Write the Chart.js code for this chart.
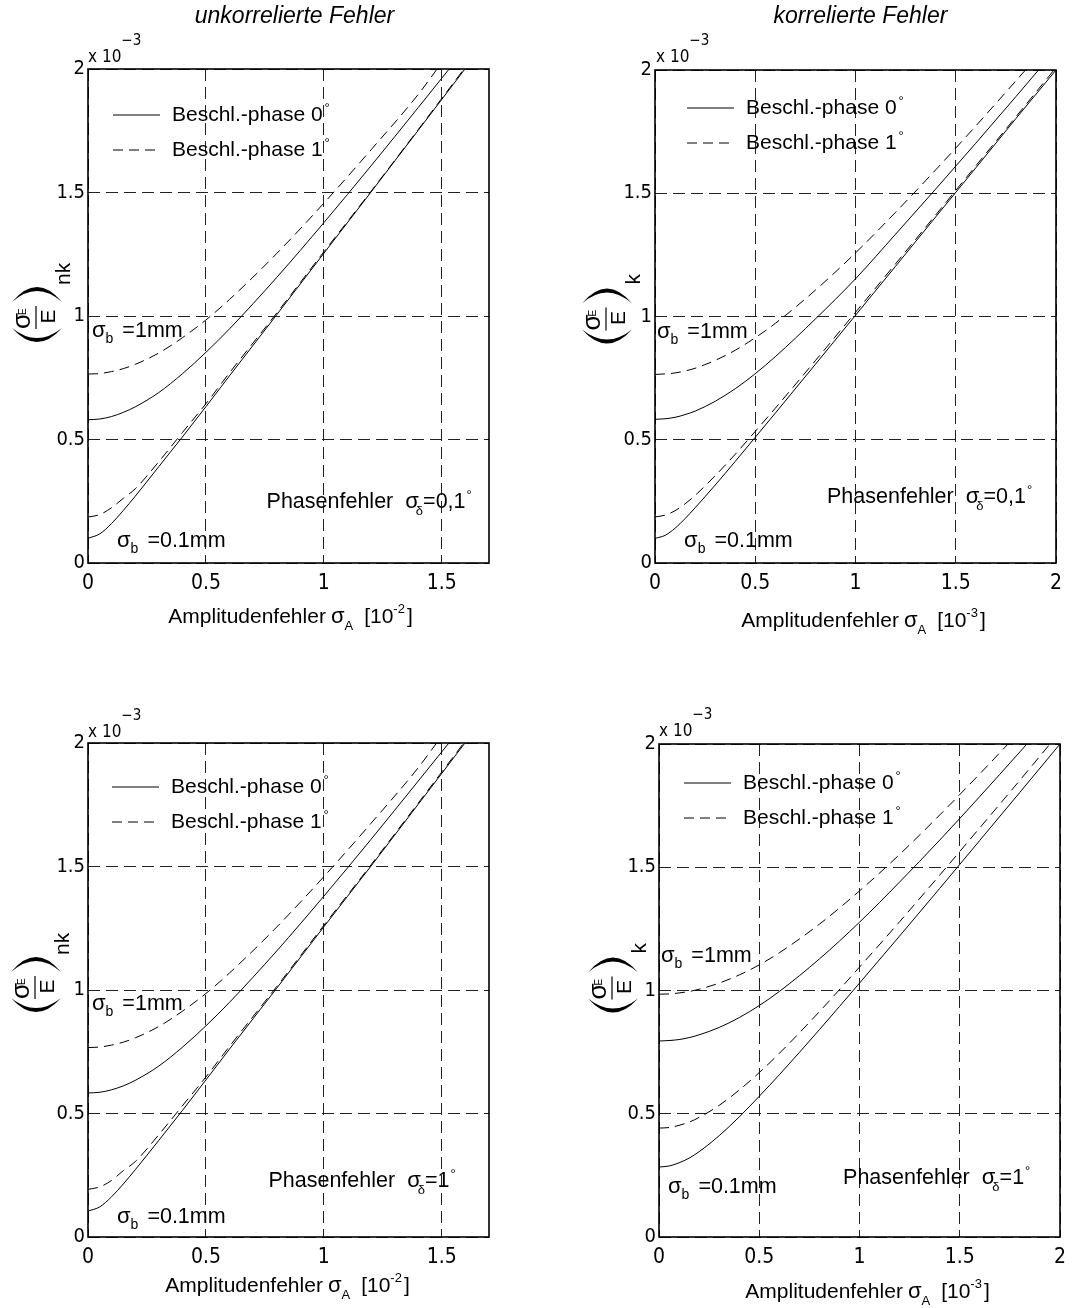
<!DOCTYPE html>
<html lang="de">
<head>
<meta charset="utf-8">
<title>Energiefehler</title>
<script src="https://cdn.jsdelivr.net/npm/chart.js@4.4.1/dist/chart.umd.min.js"></script>
<style>
  html, body { margin: 0; padding: 0; background: #fff; }
  #wrap { position: relative; width: 1088px; height: 1308px; }
  #wrap canvas { position: absolute; }
</style>
</head>
<body>
<div id="wrap">
  <canvas id="c1" width="544" height="654" style="left:0;top:0"></canvas>
  <canvas id="c2" width="544" height="654" style="left:544px;top:0"></canvas>
  <canvas id="c3" width="544" height="654" style="left:0;top:654px"></canvas>
  <canvas id="c4" width="544" height="654" style="left:544px;top:654px"></canvas>
</div>
<script>
// Stützstellen der Amplitudenfehler (x-Achse)
const xUnk = [0, 0.05, 0.1, 0.15, 0.2, 0.3, 0.4, 0.5, 0.6, 0.8, 1.0, 1.2, 1.4];            // [10^-2]
const xKor = [0, 0.05, 0.1, 0.15, 0.2, 0.3, 0.4, 0.5, 0.6, 0.8, 1.0, 1.2, 1.4, 1.6, 1.8];  // [10^-3]

const xTicks = [0, 0.5, 1, 1.5, 2];
const yTicks = [0, 0.5, 1, 1.5, 2];   // x 10^-3

// unkorrelierte Fehler, Phasenfehler 0,1°
const unk01_b1_ph0  = [0.58, 0.583, 0.593, 0.61, 0.632, 0.69, 0.766, 0.853, 0.948, 1.156, 1.378, 1.608, 1.844];
const unk01_b1_ph1  = [0.765, 0.767, 0.775, 0.787, 0.804, 0.85, 0.912, 0.984, 1.067, 1.253, 1.457, 1.673, 1.897];
const unk01_b01_ph0 = [0.10, 0.118, 0.16, 0.213, 0.27, 0.39, 0.51, 0.633, 0.758, 1.005, 1.254, 1.502, 1.752];
const unk01_b01_ph1 = [0.186, 0.196, 0.224, 0.262, 0.30, 0.41, 0.528, 0.645, 0.77, 1.012, 1.26, 1.505, 1.755];
const unk01_top     = [1.531, 1.48, 1.598, 1.594];   // Austritt am oberen Rand (y = 2)

// korrelierte Fehler, Phasenfehler 0,1°
const kor01_b1_ph0  = [0.583, 0.585, 0.591, 0.602, 0.616, 0.656, 0.707, 0.768, 0.837, 0.99, 1.153, 1.334, 1.517, 1.703, 1.892];
const kor01_b1_ph1  = [0.765, 0.767, 0.771, 0.779, 0.79, 0.822, 0.863, 0.914, 0.972, 1.107, 1.258, 1.423, 1.595, 1.773, 1.956];
const kor01_b01_ph0 = [0.10, 0.112, 0.141, 0.18, 0.224, 0.316, 0.412, 0.51, 0.608, 0.806, 1.005, 1.204, 1.404, 1.603, 1.803];
const kor01_b01_ph1 = [0.187, 0.194, 0.212, 0.24, 0.274, 0.354, 0.441, 0.534, 0.628, 0.821, 1.017, 1.214, 1.412, 1.611, 1.81];
const kor01_top     = [1.913, 1.848, 2.0, 1.99];

// unkorrelierte Fehler, Phasenfehler 1°
const unk1_b1_ph0  = [0.583, 0.586, 0.596, 0.612, 0.634, 0.692, 0.768, 0.855, 0.95, 1.158, 1.38, 1.61, 1.846];
const unk1_b1_ph1  = [0.767, 0.769, 0.777, 0.789, 0.806, 0.852, 0.914, 0.986, 1.069, 1.255, 1.459, 1.675, 1.9];
const unk1_b01_ph0 = [0.105, 0.122, 0.163, 0.215, 0.272, 0.391, 0.512, 0.636, 0.761, 1.007, 1.256, 1.502, 1.752];
const unk1_b01_ph1 = [0.193, 0.203, 0.229, 0.269, 0.305, 0.414, 0.531, 0.648, 0.772, 1.014, 1.262, 1.507, 1.757];
const unk1_top     = [1.53, 1.478, 1.598, 1.593];

// korrelierte Fehler, Phasenfehler 1°
const kor1_b1_ph0  = [0.795, 0.797, 0.801, 0.809, 0.82, 0.85, 0.89, 0.939, 0.996, 1.128, 1.277, 1.44, 1.61, 1.787, 1.968];
const kor1_b1_ph1  = [0.985, 0.986, 0.99, 0.996, 1.005, 1.03, 1.063, 1.104, 1.153, 1.269, 1.404, 1.552, 1.712, 1.879];
const kor1_b01_ph0 = [0.284, 0.288, 0.301, 0.32, 0.346, 0.411, 0.487, 0.571, 0.658, 0.841, 1.03, 1.221, 1.414, 1.609, 1.804];
const kor1_b01_ph1 = [0.442, 0.444, 0.453, 0.466, 0.485, 0.534, 0.596, 0.667, 0.745, 0.914, 1.095, 1.279, 1.468, 1.66, 1.853];
const kor1_top     = [1.835, 1.741, 2.0, 1.95];

const SANS = "'Liberation Sans', Arial, sans-serif";
const NARROW = "'Liberation Sans Narrow', 'Arial Narrow', 'DejaVu Sans Condensed', sans-serif";
const DASH = [10, 6];
const GRID_DASH = [12, 6];
const Y_AXIS_W = 40;
const X_AXIS_H = 36;

function curve(xs, ys, xTop) {
  const pts = ys.map((y, i) => ({ x: xs[i], y: y }));
  pts.push({ x: xTop, y: 2 });
  return pts;
}

function series(xs, b1ph0, b1ph1, b01ph0, b01ph1, tops) {
  return [
    { label: 'Beschl.-phase 0', data: curve(xs, b1ph0, tops[0]), borderDash: [] },
    { label: 'Beschl.-phase 1', data: curve(xs, b1ph1, tops[1]), borderDash: DASH },
    { label: 'Beschl.-phase 0', data: curve(xs, b01ph0, tops[2]), borderDash: [] },
    { label: 'Beschl.-phase 1', data: curve(xs, b01ph1, tops[3]), borderDash: DASH }
  ].map(d => Object.assign(d, {
    borderColor: '#000', borderWidth: 1, pointRadius: 0, fill: false,
    cubicInterpolationMode: 'monotone'
  }));
}

// Text mit Hoch-/Tiefstellungen stückweise zeichnen
function textRuns(ctx, x, y, runs, dry) {
  let cx = x;
  for (const r of runs) {
    cx += r.gap || 0;
    ctx.font = (r.style || '') + ' ' + r.size + 'px ' + (r.fam || SANS);
    if (!dry) ctx.fillText(r.t, cx, y - (r.rise || 0));
    cx += ctx.measureText(r.t).width;
  }
  return cx - x;
}

function decorPlugin(p) {
  return {
    id: 'decor',
    afterDatasetsDraw(chart) {
      const ctx = chart.ctx;
      const a = chart.chartArea;
      const xs = chart.scales.x, ys = chart.scales.y;
      ctx.save();
      ctx.fillStyle = '#000';
      ctx.strokeStyle = '#000';
      ctx.textAlign = 'left';
      ctx.textBaseline = 'alphabetic';

      // Rahmen
      ctx.lineWidth = 1.6;
      ctx.setLineDash([]);
      ctx.strokeRect(a.left, a.top, a.right - a.left, a.bottom - a.top);

      // Überschrift
      if (p.title) {
        ctx.font = 'italic 23px ' + SANS;
        ctx.textAlign = 'center';
        ctx.fillText(p.title, (a.left + a.right) / 2 + p.titleDx, 23);
        ctx.textAlign = 'left';
      }

      // Exponent der y-Achse
      textRuns(ctx, a.left + p.exp[0], a.top + p.exp[1], [
        { t: 'x 10', size: 17, fam: NARROW },
        { t: '\u22123', size: 15, rise: 17, fam: NARROW }
      ]);

      // Legende aus den Datensätzen
      const seen = [];
      chart.data.datasets.forEach(d => {
        if (seen.some(s => s.label === d.label)) return;
        seen.push(d);
      });
      seen.forEach((d, i) => {
        const ly = a.top + p.legend[1] + i * 35;
        const lx = a.left + p.legend[0];
        ctx.lineWidth = 1;
        ctx.setLineDash(d.borderDash);
        ctx.beginPath();
        ctx.moveTo(lx, ly);
        ctx.lineTo(lx + 47, ly);
        ctx.stroke();
        ctx.setLineDash([]);
        textRuns(ctx, lx + 59, ly + 6, [
          { t: d.label, size: 21 },
          { t: '\u00b0', size: 13, rise: 9, gap: 2 }
        ]);
      });

      // Beschriftungen im Diagramm
      const sb = (val) => [
        { t: '\u03c3', size: 22 },
        { t: 'b', size: 14, rise: -6 },
        { t: val, size: 21.5, gap: 9 }
      ];
      textRuns(ctx, xs.getPixelForValue(p.notes.b1[0]), ys.getPixelForValue(p.notes.b1[1]), sb('=1mm'));
      textRuns(ctx, xs.getPixelForValue(p.notes.b01[0]), ys.getPixelForValue(p.notes.b01[1]), sb('=0.1mm'));
      textRuns(ctx, xs.getPixelForValue(p.notes.ph[0]), ys.getPixelForValue(p.notes.ph[1]), [
        { t: 'Phasenfehler', size: 21.5 },
        { t: '\u03c3', size: 22, gap: 12 },
        { t: '\u03b4', size: 13, rise: -7, gap: -3 },
        { t: '=' + p.phase, size: 21.5 },
        { t: '\u00b0', size: 13, rise: 9, gap: 1 }
      ]);

      // x-Achsentitel
      const xt = [
        { t: 'Amplitudenfehler', size: 21 },
        { t: '\u03c3', size: 22, gap: 5 },
        { t: 'A', size: 13, rise: -7, gap: 0 },
        { t: '[10', size: 21, gap: 11 },
        { t: p.xExp, size: 13, rise: 10 },
        { t: ']', size: 21, gap: 2 }
      ];
      const w = textRuns(ctx, 0, 0, xt, true);
      textRuns(ctx, (a.left + a.right) / 2 + p.xtitle[0] - w / 2, a.bottom + p.xtitle[1], xt);

      // y-Achsentitel (sigma_E / E) mit Klammern, gedreht
      const cx = a.left + p.ylab[0];
      const cy = (a.top + a.bottom) / 2 + p.ylab[1];
      ctx.translate(cx, cy);
      ctx.rotate(-Math.PI / 2);
      ctx.beginPath();
      ctx.moveTo(-10, -24);
      ctx.quadraticCurveTo(-38, 1, -10, 26);
      ctx.quadraticCurveTo(-30, 1, -10, -24);
      ctx.fill();
      ctx.beginPath();
      ctx.moveTo(16, -24);
      ctx.quadraticCurveTo(46, 1, 16, 26);
      ctx.quadraticCurveTo(38, 1, 16, -24);
      ctx.fill();
      ctx.lineWidth = 1.2;
      ctx.beginPath();
      ctx.moveTo(-11, 0);
      ctx.lineTo(12, 0);
      ctx.stroke();
      textRuns(ctx, -11, -6, [{ t: '\u03c3', size: 26 }]);
      textRuns(ctx, 3, -10, [{ t: 'E', size: 10 }]);
      ctx.textAlign = 'center';
      ctx.font = '21px ' + SANS;
      ctx.fillText('E', 1.5, 19);
      ctx.textAlign = 'left';
      ctx.fillText(p.sub, p.subU, 34);
      ctx.restore();
    }
  };
}

function makePanel(p, datasets) {
  const axisCommon = {
    type: 'linear',
    grid: { color: '#222', lineWidth: 1, drawTicks: false },
    border: { display: false, dash: GRID_DASH }
  };
  new Chart(document.getElementById(p.id), {
    type: 'line',
    data: { datasets: datasets },
    options: {
      responsive: false,
      animation: false,
      events: [],
      layout: { padding: p.pad },
      plugins: { legend: { display: false }, tooltip: { enabled: false } },
      scales: {
        x: Object.assign({}, axisCommon, {
          min: 0, max: p.xMax,
          afterFit: s => { s.height = X_AXIS_H; },
          afterBuildTicks: s => { s.ticks = xTicks.filter(v => v <= p.xMax).map(v => ({ value: v })); },
          ticks: { color: '#000', padding: 8, font: { family: NARROW, size: 21 }, callback: v => String(v) }
        }),
        y: Object.assign({}, axisCommon, {
          min: 0, max: 2,
          afterFit: s => { s.width = Y_AXIS_W; },
          afterBuildTicks: s => { s.ticks = yTicks.map(v => ({ value: v })); },
          ticks: { color: '#000', padding: 3, font: { family: NARROW, size: 20 }, callback: v => String(v) }
        })
      }
    },
    plugins: [decorPlugin(p)]
  });
}

makePanel({
  id: 'c1', xMax: 1.7, pad: { left: 48, top: 69, right: 55, bottom: 55 },
  title: 'unkorrelierte Fehler', titleDx: 6, sub: 'nk', subU: 33, xExp: '-2', phase: '0,1',
  ylab: [-52, 2], xtitle: [2, 60], exp: [0, -7], legend: [25, 46],
  notes: { b1: [0.017, 0.915], b01: [0.123, 0.065], ph: [0.757, 0.223] }
}, series(xUnk, unk01_b1_ph0, unk01_b1_ph1, unk01_b01_ph0, unk01_b01_ph1, unk01_top));

makePanel({
  id: 'c2', xMax: 2, pad: { left: 71, top: 70, right: 32, bottom: 55 },
  title: 'korrelierte Fehler', titleDx: 5, sub: 'k', subU: 35, xExp: '-3', phase: '0,1',
  ylab: [-49, 3], xtitle: [8, 64], exp: [1, -8], legend: [32, 38],
  notes: { b1: [0.01, 0.913], b01: [0.145, 0.065], ph: [0.858, 0.243] }
}, series(xKor, kor01_b1_ph0, kor01_b1_ph1, kor01_b01_ph0, kor01_b01_ph1, kor01_top));

makePanel({
  id: 'c3', xMax: 1.7, pad: { left: 48, top: 89, right: 55, bottom: 35 },
  title: '', titleDx: 0, sub: 'nk', subU: 33, xExp: '-2', phase: '1',
  ylab: [-53, -2], xtitle: [-1, 55], exp: [0, -6], legend: [24, 44],
  notes: { b1: [0.017, 0.919], b01: [0.123, 0.057], ph: [0.765, 0.202] }
}, series(xUnk, unk1_b1_ph0, unk1_b1_ph1, unk1_b01_ph0, unk1_b01_ph1, unk1_top));

makePanel({
  id: 'c4', xMax: 2, pad: { left: 75, top: 90, right: 28, bottom: 35 },
  title: '', titleDx: 0, sub: 'k', subU: 35, xExp: '-3', phase: '1',
  ylab: [-47, -2], xtitle: [8, 61], exp: [0, -8], legend: [25, 39],
  notes: { b1: [0.01, 1.116], b01: [0.045, 0.178], ph: [0.918, 0.215] }
}, series(xKor, kor1_b1_ph0, kor1_b1_ph1, kor1_b01_ph0, kor1_b01_ph1, kor1_top));
</script>
</body>
</html>
